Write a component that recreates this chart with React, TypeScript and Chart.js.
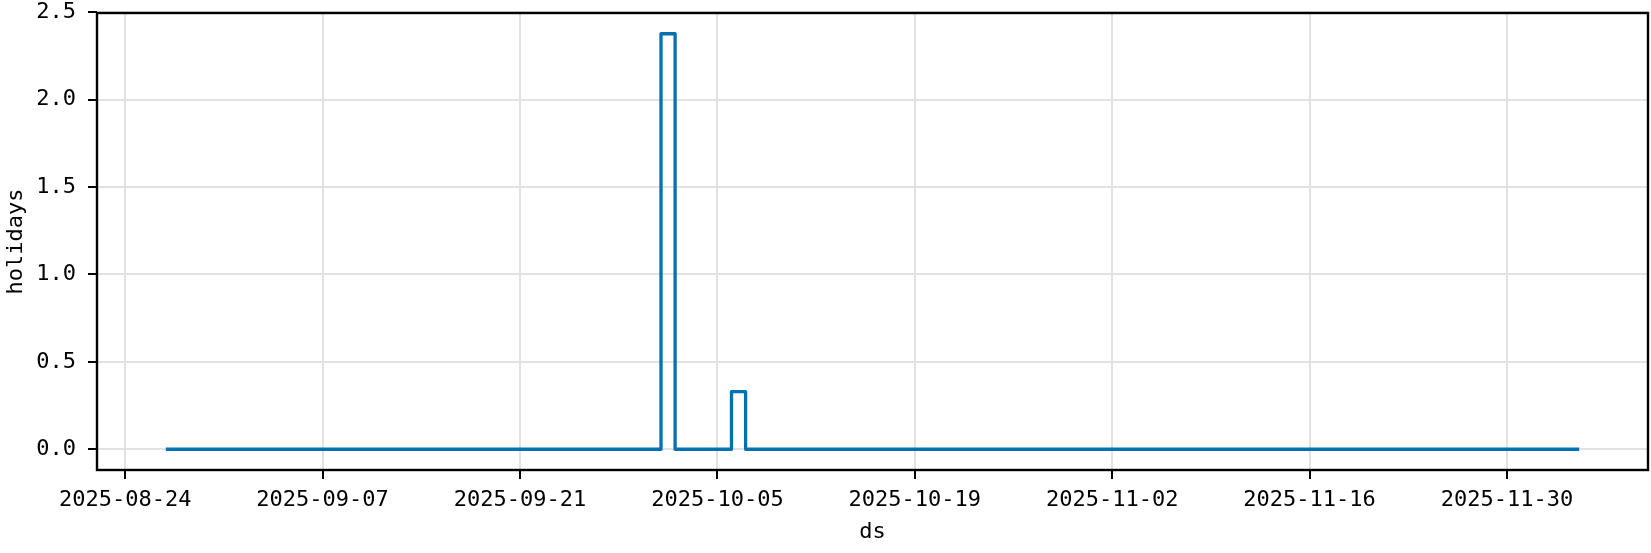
import React, { useEffect, useRef } from "react";
import { Chart, registerables } from "chart.js";

Chart.register(...registerables);

// ---- data ----
const startDate = "2025-08-27";
const dayCount = 101;
const holidays = [
  0, 0, 0, 0, 0, 0, 0, 0, 0, 0,
  0, 0, 0, 0, 0, 0, 0, 0, 0, 0,
  0, 0, 0, 0, 0, 0, 0, 0, 0, 0,
  0, 0, 0, 0, 0, 2.377, 0, 0, 0, 0,
  0.33, 0, 0, 0, 0, 0, 0, 0, 0, 0,
  0, 0, 0, 0, 0, 0, 0, 0, 0, 0,
  0, 0, 0, 0, 0, 0, 0, 0, 0, 0,
  0, 0, 0, 0, 0, 0, 0, 0, 0, 0,
  0, 0, 0, 0, 0, 0, 0, 0, 0, 0,
  0, 0, 0, 0, 0, 0, 0, 0, 0, 0,
  0,
];
const xTickLabels = [
  "2025-08-24",
  "2025-09-07",
  "2025-09-21",
  "2025-10-05",
  "2025-10-19",
  "2025-11-02",
  "2025-11-16",
  "2025-11-30",
];
const xLimits = ["2025-08-22", "2025-12-10"];
const yTickValues = [0, 0.5, 1, 1.5, 2, 2.5];
const yTickLabels = ["0.0", "0.5", "1.0", "1.5", "2.0", "2.5"];
const yLimits = [-0.1188, 2.4958];
const xTitle = "ds";
const yTitle = "holidays";

// ---- helpers ----
const DAY = 86400000;
const base = Date.parse(xTickLabels[0]);
const toDay = (s: string) => (Date.parse(s) - base) / DAY;
const dates: string[] = [];
for (let i = 0; i < dayCount; i++) {
  dates.push(new Date(Date.parse(startDate) + i * DAY).toISOString().slice(0, 10));
}

const FONT = "'DejaVu Sans Mono', monospace";

const framePlugin = {
  id: "frame",
  afterDraw(chart: any) {
    const { ctx, chartArea: a } = chart;
    ctx.save();
    ctx.strokeStyle = "#000";
    ctx.lineWidth = 2.4;
    ctx.strokeRect(a.left, a.top, a.right - a.left, a.bottom - a.top);
    ctx.restore();
  },
};

export default function App() {
  const ref = useRef<HTMLCanvasElement | null>(null);
  useEffect(() => {
    if (!ref.current) return;
    const chart = new Chart(ref.current, {
      type: "line",
      data: {
        datasets: [
          {
            label: yTitle,
            data: holidays.map((v, i) => ({ x: toDay(dates[i]), y: v })),
            borderColor: "#0072B2",
            borderWidth: 3.3,
            pointRadius: 0,
            stepped: "before",
            borderCapStyle: "square",
            borderJoinStyle: "round",
            fill: false,
          },
        ],
      },
      options: {
        animation: false,
        responsive: false,
        layout: { padding: { top: 13, right: 3, left: 0, bottom: 0 } },
        plugins: { legend: { display: false }, tooltip: { enabled: false } },
        scales: {
          x: {
            type: "linear",
            min: toDay(xLimits[0]),
            max: toDay(xLimits[1]),
            afterBuildTicks: (s: any) => {
              s.ticks = xTickLabels.map((l) => ({ value: toDay(l) }));
            },
            afterFit: (s: any) => {
              s.height = 83;
              s.paddingLeft = 0;
              s.paddingRight = 0;
            },
            ticks: {
              autoSkip: false,
              maxRotation: 0,
              padding: 8,
              color: "#000",
              font: { family: FONT, size: 22 },
              callback: (_v: any, i: number) => xTickLabels[i],
            },
            grid: {
              color: "#e2e2e2",
              lineWidth: 2,
              tickColor: "#000",
              tickLength: 9,
              tickWidth: 2,
            },
            border: { display: false },
            title: {
              display: true,
              text: xTitle,
              color: "#000",
              font: { family: FONT, size: 22 },
              padding: { top: 0, bottom: 8 },
            },
          },
          y: {
            type: "linear",
            min: yLimits[0],
            max: yLimits[1],
            afterBuildTicks: (s: any) => {
              s.ticks = yTickValues.map((v) => ({ value: v }));
            },
            afterFit: (s: any) => {
              s.width = 97;
              s.paddingTop = 0;
              s.paddingBottom = 0;
            },
            ticks: {
              padding: 12,
              color: "#000",
              font: { family: FONT, size: 22 },
              callback: (_v: any, i: number) => yTickLabels[i],
            },
            grid: {
              color: "#e2e2e2",
              lineWidth: 2,
              tickColor: "#000",
              tickLength: 9,
              tickWidth: 2,
            },
            border: { display: false },
            title: {
              display: true,
              text: yTitle,
              color: "#000",
              font: { family: FONT, size: 22 },
              padding: { top: 3, bottom: 0 },
            },
          },
        },
      },
      plugins: [framePlugin],
    } as any);
    return () => chart.destroy();
  }, []);
  return (
    <div style={{ position: "absolute", left: 0, top: 0, width: 1651, height: 553, background: "#fff" }}>
      <canvas ref={ref} width={1651} height={553} />
    </div>
  );
}
